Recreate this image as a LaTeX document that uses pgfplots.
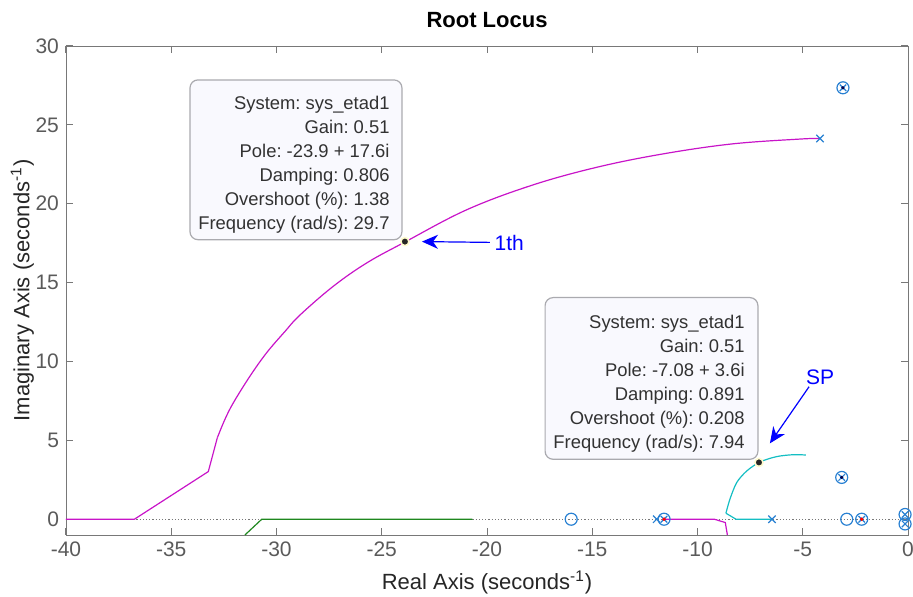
\documentclass[border=0pt]{standalone}
\usepackage{pgfplots}
\pgfplotsset{compat=1.18}
\usepackage{fontspec}
\setmainfont{Liberation Sans}
\usetikzlibrary{arrows.meta}
\frenchspacing

\definecolor{locmag}{RGB}{200,20,200}
\definecolor{loccyan}{RGB}{20,190,195}
\definecolor{locgreen}{RGB}{30,135,30}
\definecolor{pzblue}{RGB}{40,128,210}
\definecolor{axgray}{RGB}{120,120,120}
\definecolor{ticktext}{RGB}{90,90,90}
\definecolor{labeltext}{RGB}{38,38,38}
\definecolor{tipfill}{RGB}{249,249,254}
\definecolor{tipdraw}{RGB}{170,170,175}
\definecolor{tiptext}{RGB}{50,50,50}
\definecolor{tiphalo}{RGB}{255,250,205}
\definecolor{annblue}{RGB}{0,0,255}

\begin{document}
\begin{tikzpicture}
\begin{axis}[
  scale only axis,
  width=421pt, height=244.5pt,
  xmin=-40, xmax=0, ymin=-1, ymax=30,
  xtick={-40,-35,...,0}, ytick={0,5,...,30},
  axis line style={draw=axgray},
  tick style={draw=axgray, line width=0.5pt},
  major tick length=3.5pt,
  tick align=inside,
  /pgf/number format/assume math mode=true,
  tick label style={font=\fontsize{10.5}{12}\selectfont, text=ticktext},
  title={\textbf{Root Locus}},
  title style={font=\fontsize{11}{13}\selectfont, text=black, yshift=-0.5pt},
  xlabel={Real Axis (seconds\textsuperscript{-1})},
  ylabel={Imaginary Axis (seconds\textsuperscript{-1})},
  label style={font=\fontsize{11}{13}\selectfont, text=labeltext},
  xlabel style={yshift=0pt},
  ylabel style={yshift=-6pt},
  clip=false,
]
% real axis reference line
\addplot[axgray, densely dotted, line width=0.6pt] coordinates {(-40,0) (0,0)};

% magenta branch: real axis segment and break-away
\addplot[locmag, line width=0.6pt] coordinates {
  (-40,0) (-36.75,0) (-33.24,3.02) (-32.81,5.17)};
% magenta branch: complex arc towards the pole
\addplot[locmag, line width=0.6pt, smooth, tension=0.6] coordinates {
  (-32.81,5.17) (-32.45,6.33) (-32.05,7.38)
  (-31.26,9.07) (-30.47,10.55) (-29.60,11.90) (-28.88,12.95) (-27.30,14.77) (-25.71,16.25)
  (-23.93,17.55) (-20.96,19.62) (-17.80,21.20) (-14.63,22.36) (-11.46,23.20)
  (-8.30,23.80) (-5.13,24.10) (-4.18,24.14)};
\addplot[locmag, line width=0.6pt] coordinates {
  (-11.59,0) (-9.20,0) (-8.68,-0.21) (-8.58,-1)};

% green branch
\addplot[locgreen, line width=0.6pt] coordinates {
  (-31.5,-1) (-30.7,0) (-20.7,0)};

% cyan branch
\addplot[loccyan, line width=0.6pt] coordinates {
  (-6.46,0) (-8.17,0) (-8.65,0.38)};
\addplot[loccyan, line width=0.6pt, smooth, tension=0.5] coordinates {
  (-8.65,0.38) (-8.46,1.27) (-8.14,2.32) (-7.66,3.06)
  (-7.03,3.63) (-6.24,3.97) (-5.45,4.09) (-4.85,4.07)};

% open-loop poles
\addplot[only marks, mark=x, mark size=2.6pt, pzblue, line width=0.6pt] coordinates {
  (-4.18,24.14) (-6.46,0) (-11.94,0)};
% open-loop zeros
\addplot[only marks, mark=o, mark size=3pt, pzblue, line width=0.6pt] coordinates {
  (-16.0,0) (-2.91,0)};
% coincident pole/zero pairs
\addplot[only marks, mark=o, mark size=3pt, pzblue, line width=0.6pt] coordinates {
  (-3.09,27.35) (-3.15,2.65) (-11.59,0) (-2.20,0) (-0.14,0.3) (-0.14,-0.3)};
\addplot[only marks, mark=x, mark size=2.3pt, pzblue, line width=0.6pt] coordinates {
  (-3.09,27.35) (-3.15,2.65) (-11.59,0) (-2.20,0) (-0.14,0.3) (-0.14,-0.3)};
\addplot[only marks, mark=*, mark size=0.7pt, red] coordinates {(-11.59,0) (-2.20,0)};
\addplot[only marks, mark=*, mark size=0.6pt, black!70!blue] coordinates {(-3.09,27.35) (-3.15,2.65)};

% data tips
\draw[tipdraw, fill=tipfill, rounded corners=4pt, line width=0.6pt]
  (axis cs:-34.11,17.72) rectangle (axis cs:-24.04,27.85);
\node[anchor=east, align=right, inner sep=0pt, text=tiptext,
      font=\fontsize{9.2}{12}\selectfont] at (axis cs:-24.61,22.46)
  {System: sys\_etad1\\Gain: 0.51\\Pole: -23.9 + 17.6i\\Damping: 0.806\\Overshoot (\%): 1.38\\Frequency (rad/s): 29.7};

\draw[tipdraw, fill=tipfill, rounded corners=4pt, line width=0.6pt]
  (axis cs:-17.24,3.80) rectangle (axis cs:-7.13,14.05);
\node[anchor=east, align=right, inner sep=0pt, text=tiptext,
      font=\fontsize{9.2}{12}\selectfont] at (axis cs:-7.74,8.61)
  {System: sys\_etad1\\Gain: 0.51\\Pole: -7.08 + 3.6i\\Damping: 0.891\\Overshoot (\%): 0.208\\Frequency (rad/s): 7.94};

\addplot[only marks, mark=*, mark size=2pt, draw=tiphalo, fill=black!85, line width=0.8pt]
  coordinates {(-23.9,17.6) (-7.08,3.6)};

% annotations
\draw[annblue, line width=0.6pt, -{Stealth[length=8pt, width=7pt, inset=2.5pt]}]
  (axis cs:-19.86,17.55) -- (axis cs:-23.09,17.6);
\node[anchor=west, text=annblue, font=\fontsize{10.5}{12}\selectfont, inner sep=1pt]
  at (axis cs:-19.75,17.5) {1th};
\draw[annblue, line width=0.6pt, -{Stealth[length=8pt, width=7pt, inset=2.5pt]}]
  (axis cs:-4.70,8.40) -- (axis cs:-6.56,4.81);
\node[text=annblue, font=\fontsize{10.5}{12}\selectfont, inner sep=0pt]
  at (axis cs:-4.18,9.0) {SP};

\coordinate (sw) at (rel axis cs:0,0);
\coordinate (ne) at (rel axis cs:1,1);
\end{axis}
\pgfresetboundingbox
\path[use as bounding box] ([xshift=-33pt,yshift=-31pt]sw) rectangle ([xshift=2.5pt,yshift=23pt]ne);
\end{tikzpicture}
\end{document}
